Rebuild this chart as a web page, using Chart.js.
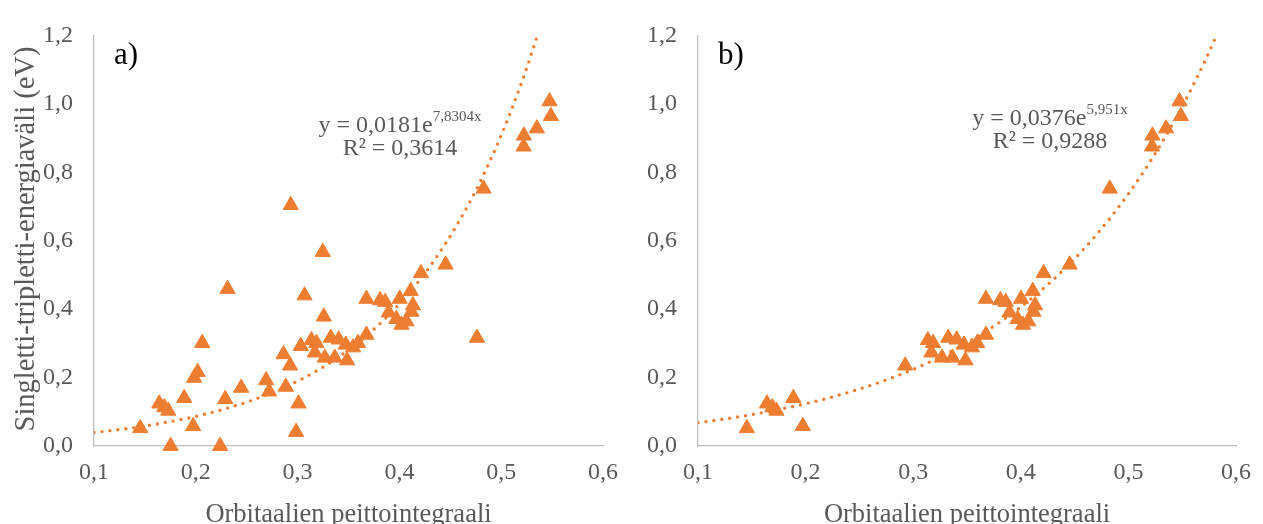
<!DOCTYPE html>
<html>
<head>
<meta charset="utf-8">
<script src="https://cdn.jsdelivr.net/npm/chart.js@4/dist/chart.umd.min.js"></script>
<style>
  body { margin: 0; background: #fff; }
  .wrap { position: absolute; top: 0; height: 524px; }
</style>
</head>
<body>
<div class="wrap" style="left:0;width:631px"><canvas id="chartA" width="631" height="524"></canvas></div>
<div class="wrap" style="left:631px;width:632px"><canvas id="chartB" width="632" height="524"></canvas></div>
<script>
// pisteet jotka ovat molemmissa kuvissa
const coreX = [0.1454, 0.1641, 0.169, 0.1729, 0.1886, 0.1974, 0.2926,
  0.3136, 0.3185, 0.3169, 0.3326, 0.3267, 0.3404, 0.3365, 0.3473, 0.3486, 0.3545, 0.3594,
  0.3676, 0.3676, 0.381, 0.386, 0.3895, 0.4003, 0.397, 0.402, 0.4069, 0.4118, 0.4133, 0.4111,
  0.4212, 0.4454, 0.4827, 0.522, 0.5223, 0.535, 0.5475, 0.5488];
const coreY = [0.052, 0.124, 0.113, 0.103, 0.140, 0.058, 0.235,
  0.309, 0.301, 0.273, 0.316, 0.258, 0.311, 0.258, 0.296, 0.250, 0.288, 0.301,
  0.325, 0.430, 0.426, 0.421, 0.390, 0.430, 0.371, 0.354, 0.364, 0.392, 0.411, 0.453,
  0.505, 0.530, 0.752, 0.875, 0.907, 0.928, 1.007, 0.964];

// vain kuvassa a)
const extraX = [0.2933, 0.3247, 0.2312, 0.3068, 0.3257, 0.2063, 0.2018, 0.1984, 0.1753, 0.2239,
  0.2289, 0.2446, 0.2691, 0.272, 0.2884, 0.2862, 0.3009, 0.2985, 0.3031, 0.4762];
const extraY = [0.704, 0.567, 0.459, 0.440, 0.378, 0.301, 0.216, 0.199, 0.0, 0.0,
  0.137, 0.170, 0.192, 0.159, 0.173, 0.268, 0.124, 0.041, 0.292, 0.316];

// trendiviivat (y = a * e^(b x)), kertoimet kuvan yhtälöistä
const trendA = { a: 0.0181, b: 7.8304, aText: '0,0181', bText: '7,8304x', r2: '0,3614' };
const trendB = { a: 0.0376, b: 5.951, aText: '0,0376', bText: '5,951x', r2: '0,9288' };

const xTicks = [0.1, 0.2, 0.3, 0.4, 0.5, 0.6];
const yTicks = [0, 0.2, 0.4, 0.6, 0.8, 1.0, 1.2];

const ORANGE = '#ED7D31';
const GREY = '#595959';
const SERIF = '"Liberation Serif", "Times New Roman", serif';

function toPoints(xs, ys) {
  return xs.map((x, i) => ({ x: x, y: ys[i] }));
}

function trendPoints(t) {
  const xEnd = Math.min(0.6, Math.log(1.2 / t.a) / t.b);
  const pts = [];
  for (let x = 0.1; x < xEnd; x += 0.004) pts.push({ x: x, y: t.a * Math.exp(t.b * x) });
  pts.push({ x: xEnd, y: t.a * Math.exp(t.b * xEnd) });
  return pts;
}

const comma = v => v.toFixed(1).replace('.', ',');

// tekstit: paneelin kirjain, yhtälö, akselien otsikot
const textPlugin = {
  id: 'texts',
  afterDraw(chart, args, o) {
    const ctx = chart.ctx;
    const area = chart.chartArea;
    ctx.save();
    ctx.fillStyle = '#000';
    ctx.textAlign = 'left';
    ctx.textBaseline = 'alphabetic';
    ctx.font = '31px ' + SERIF;
    ctx.fillText(o.letter, area.left + 20, 64);

    ctx.fillStyle = GREY;
    ctx.font = '24px ' + SERIF;
    const main = 'y = ' + o.trend.aText + 'e';
    const mw = ctx.measureText(main).width;
    ctx.font = '15px ' + SERIF;
    const sw = ctx.measureText(o.trend.bText).width;
    const start = o.eqX - (mw + sw) / 2;
    ctx.font = '24px ' + SERIF;
    ctx.fillText(main, start, o.eqY);
    ctx.font = '15px ' + SERIF;
    ctx.fillText(o.trend.bText, start + mw, o.eqY - 11);
    ctx.font = '24px ' + SERIF;
    ctx.textAlign = 'center';
    ctx.fillText('R² = ' + o.trend.r2, o.eqX, o.eqY + 23);

    ctx.font = '26.5px ' + SERIF;
    ctx.fillText('Orbitaalien peittointegraali', (area.left + area.right) / 2, 522);

    if (o.yTitle) {
      ctx.translate(27, 239);
      ctx.rotate(-Math.PI / 2);
      ctx.textBaseline = 'middle';
      ctx.font = '28.5px ' + SERIF;
      ctx.fillText(o.yTitle, 0, 0);
    }
    ctx.restore();
  }
};

function makeChart(id, sets, trend, yWidth, padRight, texts) {
  const datasets = [{
    data: trendPoints(trend),
    showLine: true,
    borderColor: ORANGE,
    borderWidth: 3.4,
    borderDash: [0, 8],
    borderCapStyle: 'round',
    pointRadius: 0,
    fill: false
  }];
  sets.forEach(s => datasets.push({
    data: s,
    pointStyle: 'triangle',
    pointRadius: 8.8,
    pointBackgroundColor: ORANGE,
    pointBorderColor: ORANGE,
    pointBorderWidth: 1,
    clip: false
  }));

  return new Chart(document.getElementById(id), {
    type: 'scatter',
    data: { datasets: datasets },
    plugins: [textPlugin],
    options: {
      responsive: false,
      animation: false,
      events: [],
      layout: { padding: { left: 0, right: padRight, top: 28, bottom: 0 } },
      plugins: {
        legend: { display: false },
        tooltip: { enabled: false },
        texts: texts
      },
      scales: {
        x: {
          type: 'linear',
          min: xTicks[0],
          max: xTicks[xTicks.length - 1],
          afterBuildTicks: s => { s.ticks = xTicks.map(v => ({ value: v })); },
          afterFit: s => { s.height = 78; },
          grid: { display: false, drawTicks: false },
          border: { display: true, color: '#BFBFBF', width: 1.3 },
          ticks: {
            padding: 12,
            color: GREY,
            font: { family: SERIF, size: 24 },
            callback: v => comma(v)
          }
        },
        y: {
          type: 'linear',
          min: yTicks[0],
          max: yTicks[yTicks.length - 1],
          afterBuildTicks: s => { s.ticks = yTicks.map(v => ({ value: v })); },
          afterFit: s => { s.width = yWidth; },
          grid: { display: false, drawTicks: false },
          border: { display: true, color: '#BFBFBF', width: 1.3 },
          ticks: {
            padding: 21,
            color: GREY,
            font: { family: SERIF, size: 24 },
            callback: v => comma(v)
          }
        }
      }
    }
  });
}

makeChart('chartA', [toPoints(coreX, coreY), toPoints(extraX, extraY)], trendA, 94, 28, {
  letter: 'a)', trend: trendA, eqX: 400, eqY: 132,
  yTitle: 'Singletti-tripletti-energiaväli (eV)'
});

makeChart('chartB', [toPoints(coreX, coreY)], trendB, 67, 15, {
  letter: 'b)', trend: trendB, eqX: 419, eqY: 125, yTitle: null
});
</script>
</body>
</html>
